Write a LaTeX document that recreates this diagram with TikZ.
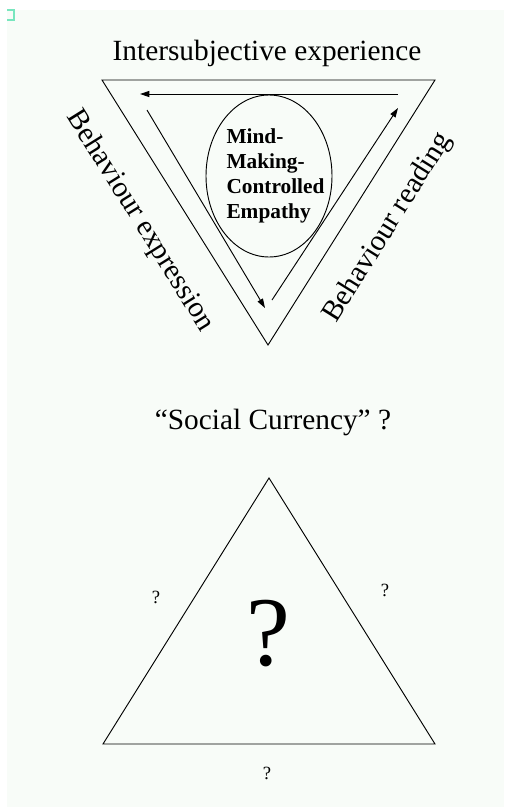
\documentclass[tikz,border=0pt]{standalone}
\usepackage{fontspec}
\setmainfont{Liberation Serif}
\usetikzlibrary{arrows.meta,shapes.geometric}
\definecolor{paper}{RGB}{248,252,248}
\definecolor{marker}{RGB}{120,230,190}
\tikzset{
  side/.style={line width=0.7pt},
  flow/.style={line width=0.7pt,-{Triangle[length=7pt,width=4.5pt]}},
  label/.style={font=\fontsize{22}{26}\selectfont,inner sep=0pt},
  query/.style={font=\fontsize{14}{16}\selectfont,inner sep=0pt}
}
\begin{document}
\begin{tikzpicture}[x=0.75pt,y=-0.75pt]
  \useasboundingbox (0,0) rectangle (504,807);
  \fill[paper] (7,10) rectangle (504,807);
  \draw[marker,line width=1.2pt] (7,10) -- (14,10) -- (14,20) -- (7,20);
  % upper triangle
  \coordinate (tl) at (102,80);
  \coordinate (tr) at (435,80);
  \coordinate (bt) at (268,345);
  \draw[side] (tl) -- (tr) -- (bt) -- cycle;
  \node[label] (title) at (267,53) {Intersubjective experience};
  \node[label,rotate=-58] (express) at (140,221) {Behaviour expression};
  \node[label,rotate=58] (reading) at (388,228) {Behaviour reading};
  % cycle of arrows
  \coordinate (a1) at (398,94);
  \coordinate (a2) at (140,94);
  \coordinate (b1) at (147,110);
  \coordinate (b2) at (265,308);
  \coordinate (c1) at (272,300);
  \coordinate (c2) at (398,108);
  \draw[flow] (a1) -- (a2);
  \draw[flow] (b1) -- (b2);
  \draw[flow] (c1) -- (c2);
  % empathy
  \node[draw,ellipse,line width=0.7pt,minimum width=94.5pt,minimum height=121.5pt,inner sep=0pt] (empathy) at (269,176) {};
  \node[font=\bfseries\fontsize{16}{18.75}\selectfont,align=left,inner sep=0pt] (empathytext) at (275.5,176) {Mind-\\Making-\\Controlled\\Empathy};
  % lower triangle
  \node[label] (currency) at (273,422) {``Social Currency'' ?};
  \coordinate (ap) at (269,478);
  \coordinate (bl) at (103,744);
  \coordinate (br) at (435,744);
  \draw[side] (ap) -- (br) -- (bl) -- cycle;
  \node[font=\fontsize{74}{80}\selectfont,inner sep=0pt] (big) at (268,634) {?};
  \node[query] (qleft) at (156,597) {?};
  \node[query] (qright) at (385,590) {?};
  \node[query] (qbottom) at (267,773) {?};
\end{tikzpicture}
\end{document}
